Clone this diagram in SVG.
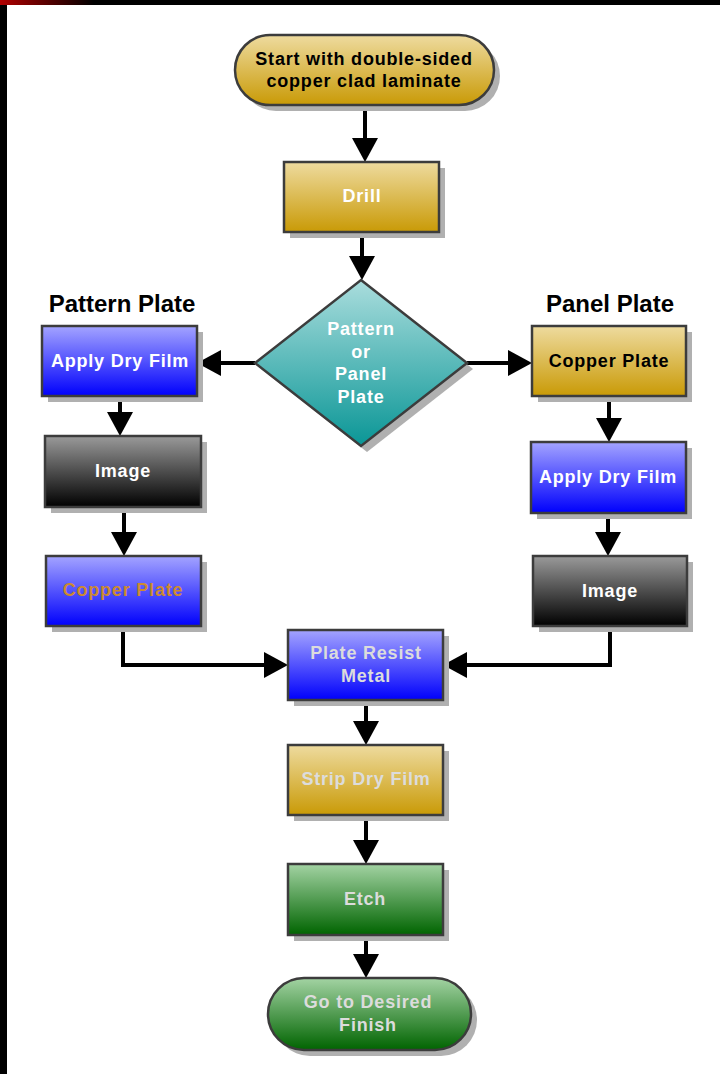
<svg xmlns="http://www.w3.org/2000/svg" width="720" height="1074" viewBox="0 0 720 1074">
<defs>
<linearGradient id="gGold" x1="0" y1="0" x2="0" y2="1"><stop offset="0" stop-color="#eedb9f"/><stop offset="1" stop-color="#c99a06"/></linearGradient>
<linearGradient id="gBlue" x1="0" y1="0" x2="0" y2="1"><stop offset="0" stop-color="#a4a4ff"/><stop offset="1" stop-color="#0000fc"/></linearGradient>
<linearGradient id="gBlack" x1="0" y1="0" x2="0" y2="1"><stop offset="0" stop-color="#9a9a9a"/><stop offset="1" stop-color="#000000"/></linearGradient>
<linearGradient id="gTeal" x1="0" y1="0" x2="0" y2="1"><stop offset="0" stop-color="#aadddd"/><stop offset="1" stop-color="#0a9696"/></linearGradient>
<linearGradient id="gGreen" x1="0" y1="0" x2="0" y2="1"><stop offset="0" stop-color="#a3d3a3"/><stop offset="1" stop-color="#006400"/></linearGradient>
<linearGradient id="gTop" x1="0" y1="0" x2="1" y2="0"><stop offset="0" stop-color="#b00000"/><stop offset="0.13" stop-color="#000000"/><stop offset="1" stop-color="#000000"/></linearGradient>
<marker id="ah" markerUnits="userSpaceOnUse" markerWidth="26" markerHeight="26" viewBox="0 0 24 26" refX="4" refY="13" orient="auto"><path d="M0,0 L24,13 L0,26 Z" fill="#000"/></marker>
</defs>
<style>
.box{stroke:#3c3c3c;stroke-width:2.5}
.sh{fill:#b0b0b0}
.t{font-family:"Liberation Sans",Arial,sans-serif;font-weight:bold;font-size:18px;letter-spacing:0.8px;text-anchor:middle}
.h{font-family:"Liberation Sans",Arial,sans-serif;font-weight:bold;font-size:24px;text-anchor:middle;fill:#000}
.w{fill:#ffffff}
.k{fill:#000000}
.g{fill:#dcdcdc}
.o{fill:#cc8a30}
.c{fill:none;stroke:#000;stroke-width:4;marker-end:url(#ah)}
</style>
<rect x="0" y="0" width="720" height="1074" fill="#ffffff"/>
<rect x="0" y="0" width="720" height="5" fill="url(#gTop)"/>
<rect x="0" y="5" width="7" height="1069" fill="#000"/>

<g id="connectors">
<path class="c" d="M365,105 V142"/>
<path class="c" d="M362,232 V260"/>
<path class="c" d="M255,363 H217"/>
<path class="c" d="M467,363 H512"/>
<path class="c" d="M120,396 V416"/>
<path class="c" d="M124,507 V536"/>
<path class="c" d="M609,397 V422"/>
<path class="c" d="M608,513 V536"/>
<path class="c" d="M123,626 V665 H268"/>
<path class="c" d="M610,626 V665 H463"/>
<path class="c" d="M366,700 V725"/>
<path class="c" d="M366,815 V844"/>
<path class="c" d="M366,935 V958"/>
</g>

<g id="labelPattern"><text class="h" x="122" y="312">Pattern Plate</text></g>
<g id="labelPanel"><text class="h" x="610" y="312">Panel Plate</text></g>

<g id="start">
<rect class="sh" x="241" y="41" width="259" height="70" rx="35"/>
<rect class="box" x="235" y="35" width="259" height="70" rx="35" fill="url(#gGold)"/>
<text class="t k" x="364" y="65">Start with double-sided</text>
<text class="t k" x="364" y="87">copper clad laminate</text>
</g>

<g id="drill">
<rect class="sh" x="290" y="168" width="155" height="70"/>
<rect class="box" x="284" y="162" width="155" height="70" fill="url(#gGold)"/>
<text class="t w" x="362" y="202">Drill</text>
</g>

<g id="decision">
<polygon class="sh" points="367,286 473,369 367,452 261,369"/>
<polygon class="box" points="361,280 467,363 361,446 255,363" fill="url(#gTeal)"/>
<text class="t w" x="361" y="335">Pattern</text>
<text class="t w" x="361" y="358">or</text>
<text class="t w" x="361" y="380">Panel</text>
<text class="t w" x="361" y="403">Plate</text>
</g>

<g id="applyDryFilmL">
<rect class="sh" x="48" y="332" width="155" height="70"/>
<rect class="box" x="42" y="326" width="155" height="70" fill="url(#gBlue)"/>
<text class="t w" x="120" y="367">Apply Dry Film</text>
</g>

<g id="imageL">
<rect class="sh" x="51" y="442" width="156" height="71"/>
<rect class="box" x="45" y="436" width="156" height="71" fill="url(#gBlack)"/>
<text class="t w" x="123" y="477">Image</text>
</g>

<g id="copperPlateL">
<rect class="sh" x="52" y="562" width="155" height="70"/>
<rect class="box" x="46" y="556" width="155" height="70" fill="url(#gBlue)"/>
<text class="t o" x="123" y="596">Copper Plate</text>
</g>

<g id="copperPlateR">
<rect class="sh" x="538" y="332" width="154" height="70"/>
<rect class="box" x="532" y="326" width="154" height="70" fill="url(#gGold)"/>
<text class="t k" x="609" y="367">Copper Plate</text>
</g>

<g id="applyDryFilmR">
<rect class="sh" x="537" y="448" width="155" height="71"/>
<rect class="box" x="531" y="442" width="155" height="71" fill="url(#gBlue)"/>
<text class="t w" x="608" y="483">Apply Dry Film</text>
</g>

<g id="imageR">
<rect class="sh" x="539" y="562" width="154" height="70"/>
<rect class="box" x="533" y="556" width="154" height="70" fill="url(#gBlack)"/>
<text class="t w" x="610" y="597">Image</text>
</g>

<g id="plateResist">
<rect class="sh" x="294" y="636" width="155" height="70"/>
<rect class="box" x="288" y="630" width="155" height="70" fill="url(#gBlue)"/>
<text class="t g" x="366" y="659">Plate Resist</text>
<text class="t g" x="366" y="682">Metal</text>
</g>

<g id="stripDryFilm">
<rect class="sh" x="294" y="751" width="155" height="70"/>
<rect class="box" x="288" y="745" width="155" height="70" fill="url(#gGold)"/>
<text class="t g" x="366" y="785">Strip Dry Film</text>
</g>

<g id="etch">
<rect class="sh" x="294" y="870" width="155" height="71"/>
<rect class="box" x="288" y="864" width="155" height="71" fill="url(#gGreen)"/>
<text class="t g" x="365" y="905">Etch</text>
</g>

<g id="finish">
<rect class="sh" x="274" y="984" width="203" height="72" rx="36"/>
<rect class="box" x="268" y="978" width="203" height="72" rx="36" fill="url(#gGreen)"/>
<text class="t g" x="368" y="1008">Go to Desired</text>
<text class="t g" x="368" y="1031">Finish</text>
</g>
</svg>
